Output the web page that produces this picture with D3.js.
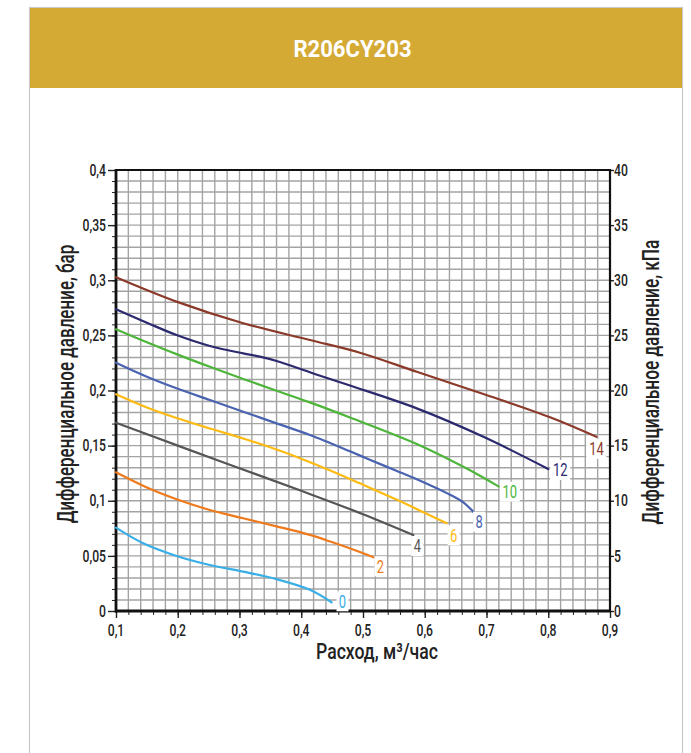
<!DOCTYPE html>
<html><head><meta charset="utf-8">
<script src="https://cdn.jsdelivr.net/npm/d3@7"></script>
<style>html,body{margin:0;padding:0;background:#fff;}svg{display:block;}</style>
</head><body>
<div id="chart"></div>
<script>
// ---- data ----
const chartTitle = "R206CY203";
const xTickValues = [0.1,0.2,0.3,0.4,0.5,0.6,0.7,0.8,0.9];
const yTickValues = [0,0.05,0.1,0.15,0.2,0.25,0.3,0.35,0.4];
const kpaTickValues = [0,5,10,15,20,25,30,35,40];
const curveNames = ["0","2","4","6","8","10","12","14"];
const curveColors = ["#3aaee6","#ee7a1c","#555555","#fdbb12","#4a63b0","#4cb53a","#2b2a6e","#8b3a2a"];

const flow0 = [0.1,0.144,0.198,0.252,0.306,0.36,0.414,0.449];
const dp0   = [0.0756,0.0614,0.0499,0.0417,0.0357,0.0289,0.0192,0.0079];
const flow2 = [0.1,0.15,0.198,0.252,0.306,0.36,0.414,0.447,0.495,0.517];
const dp2   = [0.1258,0.112,0.1013,0.0916,0.0841,0.0768,0.069,0.063,0.0535,0.0487];
const flow4 = [0.1,0.2,0.3,0.4,0.5,0.5815];
const dp4   = [0.1708,0.150,0.1295,0.109,0.0878,0.0689];
const flow6 = [0.1,0.15,0.198,0.252,0.306,0.36,0.403,0.447,0.495,0.555,0.6355];
const dp6   = [0.1965,0.1845,0.175,0.1655,0.1565,0.1465,0.1375,0.1275,0.1158,0.1008,0.0795];
const flow8 = [0.1,0.15,0.198,0.252,0.306,0.36,0.414,0.479,0.511,0.555,0.587,0.608,0.641,0.6625,0.68];
const dp8   = [0.2252,0.2125,0.202,0.1914,0.1808,0.1702,0.1596,0.1448,0.1372,0.127,0.1195,0.1143,0.1055,0.0985,0.0892];
const flow10 = [0.1,0.15,0.198,0.252,0.306,0.36,0.414,0.479,0.587,0.668,0.72];
const dp10   = [0.2555,0.2438,0.233,0.2215,0.2105,0.1998,0.1892,0.1755,0.1515,0.1292,0.1128];
const flow12 = [0.1,0.15,0.198,0.252,0.306,0.333,0.36,0.414,0.479,0.587,0.695,0.80];
const dp12   = [0.2736,0.2615,0.2503,0.2404,0.2337,0.2307,0.2268,0.2165,0.2045,0.1838,0.158,0.1288];
const flow14 = [0.1,0.198,0.306,0.414,0.495,0.587,0.695,0.803,0.878];
const dp14   = [0.3027,0.2806,0.261,0.2458,0.2343,0.217,0.1968,0.1757,0.158];

const curveFlows = [flow0,flow2,flow4,flow6,flow8,flow10,flow12,flow14];
const curveDps = [dp0,dp2,dp4,dp6,dp8,dp10,dp12,dp14];

// ---- layout / style ----
const W = 691, H = 753;
const labelOffsets = [[11,-1],[7,9],[4,11],[7,12],[5,9],[11,5],[12,1],[0,12]];
const FONT = "Roboto, 'Noto Sans', sans-serif";

const svg = d3.select("#chart").append("svg").attr("width", W).attr("height", H);
svg.append("rect").attr("width", W).attr("height", H).attr("fill", "#fff");
// card
svg.append("rect").attr("x", 29.5).attr("y", 7.5).attr("width", 653).attr("height", 800)
  .attr("fill", "#fff").attr("stroke", "#c9c9c9").attr("stroke-width", 1.2);
svg.append("rect").attr("x", 30).attr("y", 8).attr("width", 652).attr("height", 80).attr("fill", "#d4a934");

function ctext(sel, x, y, txt, o) {
  const g = sel.append("g").attr("transform", `translate(${x},${y}) rotate(${o.rotate||0}) scale(${o.sx||0.76},1)`);
  return g.append("text").attr("text-anchor", o.anchor || "middle")
    .attr("dominant-baseline", o.baseline || "auto")
    .attr("font-family", FONT).attr("font-size", o.size)
    .attr("font-weight", o.weight || 500).attr("fill", o.fill || "#222").text(txt);
}

ctext(svg, 352.5, 57, chartTitle, {size: 23, sx: 0.96, weight: 700, fill: "#fff"});

const x = d3.scaleLinear().domain([0.1, 0.9]).range([116, 610]);
const y = d3.scaleLinear().domain([0, 0.4]).range([611, 170]);
const yk = d3.scaleLinear().domain([0, 40]).range([611, 170]);

// grid
const grid = svg.append("g");
grid.selectAll(".vg").data(x.ticks(40)).join("line")
  .attr("x1", d => x(d)).attr("x2", d => x(d)).attr("y1", y(0.4)).attr("y2", y(0))
  .attr("stroke", "#a3a3a3").attr("stroke-width", 1.4);
grid.selectAll(".hg").data(y.ticks(40)).join("line")
  .attr("x1", x(0.1)).attr("x2", x(0.9)).attr("y1", d => y(d)).attr("y2", d => y(d))
  .attr("stroke", "#a3a3a3").attr("stroke-width", 1.4);

// axes ticks
function styleAxis(g, w) {
  g.select(".domain").remove();
  g.selectAll(".tick line").attr("stroke", "#222").attr("stroke-width", w);
  g.selectAll(".tick text").remove();
}
svg.append("g").attr("transform", `translate(${x(0.1)},0)`)
  .call(d3.axisLeft(y).tickValues(y.ticks(40)).tickSize(4).tickFormat("")).call(g => styleAxis(g, 1));
svg.append("g").attr("transform", `translate(${x(0.1)},0)`)
  .call(d3.axisLeft(y).tickValues(yTickValues).tickSize(8).tickFormat("")).call(g => styleAxis(g, 1.4));
svg.append("g").attr("transform", `translate(0,${y(0)})`)
  .call(d3.axisBottom(x).tickValues(x.ticks(40)).tickSize(4).tickFormat("")).call(g => styleAxis(g, 1));
svg.append("g").attr("transform", `translate(0,${y(0)})`)
  .call(d3.axisBottom(x).tickValues(xTickValues).tickSize(7).tickFormat("")).call(g => styleAxis(g, 1.4));
svg.append("g").attr("transform", `translate(${x(0.9)},0)`)
  .call(d3.axisRight(yk).tickValues(kpaTickValues).tickSize(4).tickFormat("")).call(g => styleAxis(g, 1.4));

// frame
svg.append("line").attr("x1", x(0.1)).attr("x2", x(0.9)).attr("y1", y(0.4)).attr("y2", y(0.4)).attr("stroke", "#111").attr("stroke-width", 2);
svg.append("line").attr("x1", x(0.9)).attr("x2", x(0.9)).attr("y1", y(0.4)-1).attr("y2", y(0)+1).attr("stroke", "#111").attr("stroke-width", 2.2);
svg.append("line").attr("x1", x(0.1)).attr("x2", x(0.1)).attr("y1", y(0.4)-1).attr("y2", y(0)+1.5).attr("stroke", "#111").attr("stroke-width", 2.8);
svg.append("line").attr("x1", x(0.1)-1).attr("x2", x(0.9)+1).attr("y1", y(0)).attr("y2", y(0)).attr("stroke", "#111").attr("stroke-width", 2.8);

// tick labels
const fmt = d => String(+d.toFixed(2)).replace(".", ",");
yTickValues.forEach(v => ctext(svg, x(0.1) - 10, y(v), fmt(v), {size: 16, anchor: "end", baseline: "central"}));
xTickValues.forEach(v => ctext(svg, x(v), y(0) + 19, fmt(v), {size: 16, baseline: "central"}));
kpaTickValues.forEach(v => ctext(svg, x(0.9) + 4, yk(v), String(v), {size: 16, anchor: "start", baseline: "central"}));

// axis titles
ctext(svg, 377, 659, "Расход, м³/час", {size: 22, sx: 0.8});
ctext(svg, 66, 384, "Дифференциальное давление, бар", {size: 23, sx: 0.74, rotate: -90, baseline: "central"});
ctext(svg, 651, 382, "Дифференциальное давление, кПа", {size: 23, sx: 0.75, rotate: -90, baseline: "central"});

// curves
const line = d3.line().x(d => x(d[0])).y(d => y(d[1])).curve(d3.curveCatmullRom.alpha(0.5));
curveNames.forEach((name, i) => {
  const pts = curveFlows[i].map((f, j) => [f, curveDps[i][j]]);
  svg.append("path").datum(pts).attr("d", line).attr("fill", "none")
    .attr("stroke", curveColors[i]).attr("stroke-width", 2.2).attr("stroke-linecap", "round");
});
// curve labels
curveNames.forEach((name, i) => {
  const fl = curveFlows[i], dp = curveDps[i];
  const ex = x(fl[fl.length - 1]) + labelOffsets[i][0];
  const ey = y(dp[dp.length - 1]) + labelOffsets[i][1];
  const w = name.length * 8 + 4;
  svg.append("rect").attr("x", ex - w / 2).attr("y", ey - 10).attr("width", w).attr("height", 20).attr("fill", "#fff");
  ctext(svg, ex, ey, name, {size: 18, sx: 0.72, weight: 400, baseline: "central", fill: curveColors[i]});
});
</script>
</body></html>
